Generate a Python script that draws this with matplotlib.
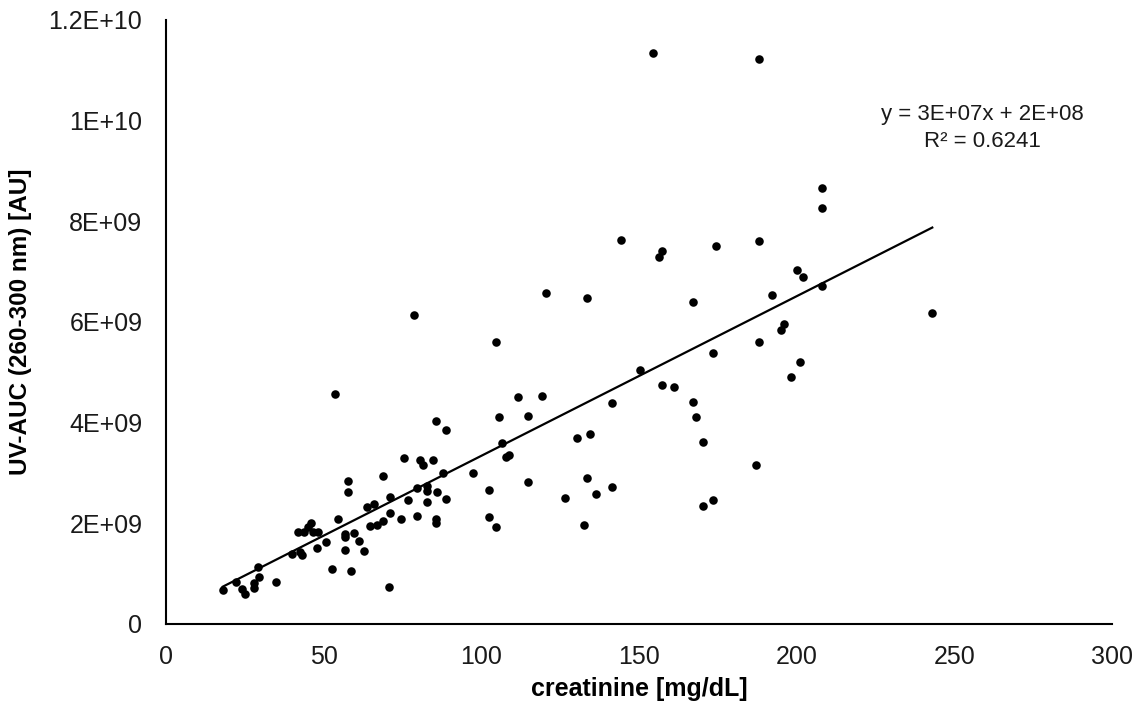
import numpy as np
import matplotlib.pyplot as plt

plt.rcParams['font.family'] = ['Liberation Sans', 'DejaVu Sans']

# creatinine [mg/dL]
creatinine = [
    18.0, 22.2, 24.0, 25.2, 28.0, 28.0, 29.1, 29.6, 34.9, 40.1,
    42.5, 43.0, 41.8, 43.9, 45.1, 46.0, 46.7, 48.1, 48.0, 50.6,
    52.7, 53.6, 54.7, 56.8, 56.8, 56.8, 57.8, 57.8, 58.7, 59.7,
    61.3, 62.8, 63.8, 64.7, 65.9, 66.8, 68.8, 68.9, 70.8, 70.9,
    70.9, 74.5, 75.6, 76.7, 78.7, 79.6, 79.7, 80.6, 81.6, 82.7,
    82.9, 82.9, 84.8, 85.7, 85.8, 85.7, 85.7, 87.8, 88.8, 88.8,
    97.5, 102.4, 102.4, 104.6, 104.6, 105.6, 106.7, 107.7, 108.7, 111.6,
    114.7, 114.7, 119.3, 120.4, 126.5, 130.4, 132.6, 133.5, 133.5, 134.6,
    136.3, 141.4, 141.4, 144.4, 150.4, 154.4, 156.4, 157.4, 157.4, 161.2,
    167.2, 167.2, 168.2, 170.3, 170.3, 173.4, 173.4, 174.3, 187.0, 188.1,
    188.1, 188.1, 192.1, 195.1, 196.1, 198.2, 200.1, 201.0, 201.9, 208.0,
    208.0, 208.0, 243.0,
]

# UV-AUC in units of 1E9
uv_auc = [
    0.68, 0.83, 0.70, 0.59, 0.82, 0.72, 1.13, 0.93, 0.83, 1.40,
    1.43, 1.37, 1.82, 1.82, 1.93, 2.00, 1.82, 1.82, 1.50, 1.62,
    1.10, 4.57, 2.08, 1.79, 1.73, 1.46, 2.85, 2.63, 1.05, 1.81,
    1.65, 1.44, 2.33, 1.95, 2.38, 1.97, 2.93, 2.04, 0.74, 2.53,
    2.21, 2.08, 3.29, 2.46, 6.13, 2.15, 2.71, 3.25, 3.16, 2.42,
    2.75, 2.65, 3.26, 4.03, 2.63, 2.08, 2.00, 2.99, 3.85, 2.48,
    2.99, 2.66, 2.13, 5.61, 1.93, 4.11, 3.60, 3.31, 3.36, 4.50,
    4.13, 2.83, 4.52, 6.58, 2.50, 3.69, 1.97, 6.48, 2.91, 3.78,
    2.59, 4.39, 2.73, 7.63, 5.04, 11.34, 7.29, 7.41, 4.75, 4.71,
    6.40, 4.41, 4.12, 3.61, 2.35, 5.38, 2.46, 7.50, 3.16, 11.23,
    7.61, 5.60, 6.54, 5.84, 5.96, 4.91, 7.03, 5.21, 6.90, 8.66,
    8.27, 6.72, 6.17,
]

xticks = [0, 50, 100, 150, 200, 250, 300]
yticks = [0, 2e9, 4e9, 6e9, 8e9, 1e10, 1.2e10]
ytick_labels = ["0", "2E+09", "4E+09", "6E+09", "8E+09", "1E+10", "1.2E+10"]

x = np.array(creatinine)
y = np.array(uv_auc) * 1e9

# linear trendline over the data range
slope, intercept = np.polyfit(x, y, 1)
xfit = np.array([x.min(), x.max()])
yfit = slope * xfit + intercept

fig = plt.figure(figsize=(11.36, 7.11), dpi=100)
ax = fig.add_axes([0.1461, 0.1224, 0.8328, 0.8495])

ax.scatter(x, y, s=38, color="black", zorder=3, linewidths=0)
ax.plot(xfit, yfit, color="black", lw=1.6, zorder=2)

ax.set_xlim(0, 300)
ax.set_ylim(0, 1.2e10)
ax.set_xticks(xticks)
ax.set_yticks(yticks)
ax.set_yticklabels(ytick_labels)
ax.tick_params(axis="both", length=0, labelsize=18, colors="#1a1a1a")
ax.tick_params(axis="x", pad=15)
ax.tick_params(axis="y", pad=17)

for side in ["top", "right"]:
    ax.spines[side].set_visible(False)
for side in ["left", "bottom"]:
    ax.spines[side].set_linewidth(1.5)
    ax.spines[side].set_color("black")

ax.set_xlabel("creatinine [mg/dL]", fontsize=18, fontweight="bold", labelpad=6)
ax.set_ylabel("UV-AUC (260-300 nm) [AU]", fontsize=17.5, fontweight="bold", labelpad=12)

ax.text(259, 9.85e9, "y = 3E+07x + 2E+08\nR² = 0.6241", fontsize=16,
        ha="center", va="center", linespacing=1.35, color="#1a1a1a")

fig.savefig("out.png", dpi=100)
